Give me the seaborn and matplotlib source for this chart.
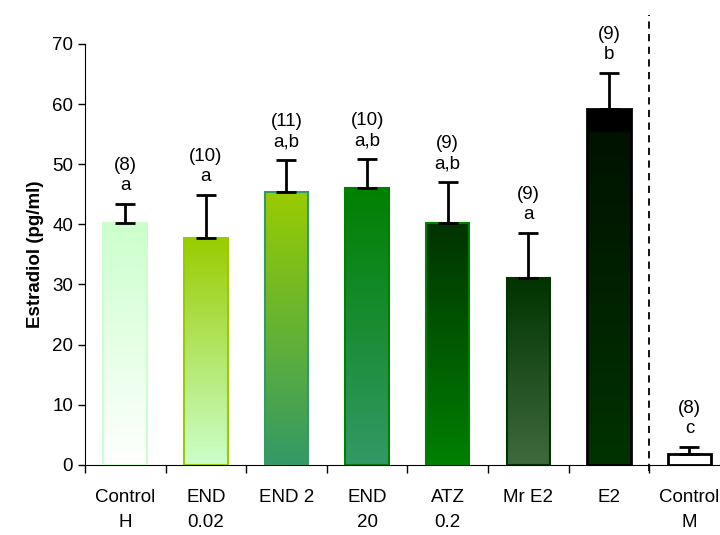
import numpy as np
import matplotlib
matplotlib.use("Agg")
import matplotlib.pyplot as plt
from matplotlib.colors import LinearSegmentedColormap
import seaborn as sns

groups = ["Control\nH", "END\n0.02", "END 2", "END\n20", "ATZ\n0.2", "Mr E2", "E2", "Control\nM"]
means = [40.2, 37.7, 45.4, 46.1, 40.2, 31.1, 59.2, 1.8]
sem = [3.2, 7.2, 5.3, 4.7, 6.8, 7.5, 6.0, 1.2]
n_labels = ["(8)", "(10)", "(11)", "(10)", "(9)", "(9)", "(9)", "(8)"]
letters = ["a", "a", "a,b", "a,b", "a,b", "a", "b", "c"]

# fill gradients (bottom -> top) and edge colours
grads = [
    ["#ffffff", "#ccffcc"],
    ["#ccffcc", "#99cc00"],
    ["#339966", "#99cc00"],
    ["#339966", "#008000"],
    ["#008000", "#003300"],
    ["#3f6a3f", "#003300"],
    [(0, "#003300"), (0.93, "#001200"), (0.94, "#000000"), (1, "#000000")],
    ["#ffffff", "#ffffff"],
]
edges = ["#ccffcc", "#99cc00", "#339966", "#008000", "#008000", "#003300", "#000000", "#000000"]

sns.set_style("white")
plt.rcParams["font.family"] = ["Liberation Sans", "DejaVu Sans"]
plt.rcParams["text.color"] = "black"
plt.rcParams["axes.labelcolor"] = "black"
plt.rcParams["xtick.color"] = "black"
plt.rcParams["ytick.color"] = "black"

fig = plt.figure(figsize=(7.2, 5.35), dpi=100)
ax = fig.add_axes([0.118, 0.131, 0.89, 0.787])

sns.barplot(x=groups, y=means, width=0.54, color="white", ax=ax, linewidth=1.5)

grad = np.linspace(0, 1, 256).reshape(-1, 1)
for patch, g, ec in zip(ax.patches, grads, edges):
    patch.set_edgecolor(ec)
    patch.set_facecolor("none")
    patch.set_linewidth(2 if ec == "#000000" else 1.5)
    patch.set_zorder(3)
    x0, y0 = patch.get_x(), patch.get_y()
    w, h = patch.get_width(), patch.get_height()
    cmap = LinearSegmentedColormap.from_list("g", g)
    im = ax.imshow(grad, cmap=cmap, origin="lower", aspect="auto",
                   extent=[x0, x0 + w, y0, y0 + h], zorder=2)
    im.set_clip_path(patch)

xs = np.arange(len(groups))
ax.errorbar(xs, means, yerr=[np.zeros(len(sem)), sem], fmt="none",
            ecolor="black", elinewidth=2, capsize=7, capthick=2, zorder=4)

for x, m, s, n, l in zip(xs, means, sem, n_labels, letters):
    ax.annotate(n + "\n" + l, (x, m + s), xytext=(0, 7), textcoords="offset points",
                ha="center", va="bottom", fontsize=13.5, linespacing=1.25)

ax.plot([6.5, 6.5], [-1, 74.8], ls=(0, (4, 3)), color="black", lw=1.3, clip_on=False)

ax.set_xlim(-0.5, 7.45)
ax.set_ylim(0, 70)
ax.set_yticks(range(0, 71, 10))
ax.set_xticks(np.arange(-0.5, 7.5, 1), minor=True)
ax.tick_params(axis="x", which="major", length=0, pad=17, labelsize=13.5)
ax.tick_params(axis="x", which="minor", length=6, direction="out", bottom=True, width=1)
ax.tick_params(axis="y", length=5, direction="out", left=True, labelsize=13.5, width=1)
for lab in ax.get_xticklabels():
    lab.set_verticalalignment("top")
    lab.set_linespacing(1.65)
ax.set_ylabel("Estradiol (pg/ml)", fontsize=13.5, fontweight="bold", labelpad=6)
sns.despine(ax=ax)
ax.spines["left"].set_color("black")
ax.spines["bottom"].set_color("black")

fig.savefig("out.png", dpi=100)
